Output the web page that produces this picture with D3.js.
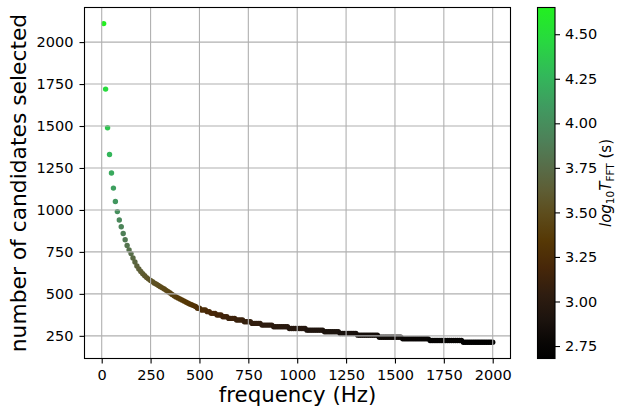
<!DOCTYPE html>
<html>
<head>
<meta charset="utf-8">
<script src="https://cdn.jsdelivr.net/npm/d3@7"></script>
<style>
  body { margin: 0; background: #fff; }
  svg { font-family: "DejaVu Sans", sans-serif; }
</style>
</head>
<body>
<div class="chart"></div>
<script>
// frequency of each point (Hz)
var freqs = [
  10, 20, 30, 40, 50, 60, 70, 80, 90, 100,
  110, 120, 130, 140, 150, 160, 170, 180, 190, 200,
  210, 220, 230, 240, 250, 260, 270, 280, 290, 300,
  310, 320, 330, 340, 350, 360, 370, 380, 390, 400,
  410, 420, 430, 440, 450, 460, 470, 480, 490, 500,
  510, 520, 530, 540, 550, 560, 570, 580, 590, 600,
  610, 620, 630, 640, 650, 660, 670, 680, 690, 700,
  710, 720, 730, 740, 750, 760, 770, 780, 790, 800,
  810, 820, 830, 840, 850, 860, 870, 880, 890, 900,
  910, 920, 930, 940, 950, 960, 970, 980, 990, 1000,
  1010, 1020, 1030, 1040, 1050, 1060, 1070, 1080, 1090, 1100,
  1110, 1120, 1130, 1140, 1150, 1160, 1170, 1180, 1190, 1200,
  1210, 1220, 1230, 1240, 1250, 1260, 1270, 1280, 1290, 1300,
  1310, 1320, 1330, 1340, 1350, 1360, 1370, 1380, 1390, 1400,
  1410, 1420, 1430, 1440, 1450, 1460, 1470, 1480, 1490, 1500,
  1510, 1520, 1530, 1540, 1550, 1560, 1570, 1580, 1590, 1600,
  1610, 1620, 1630, 1640, 1650, 1660, 1670, 1680, 1690, 1700,
  1710, 1720, 1730, 1740, 1750, 1760, 1770, 1780, 1790, 1800,
  1810, 1820, 1830, 1840, 1850, 1860, 1870, 1880, 1890, 1900,
  1910, 1920, 1930, 1940, 1950, 1960, 1970, 1980, 1990, 2000
];

// number of candidates selected at each frequency
var counts = [
  2110, 1720, 1490, 1330, 1220, 1130, 1050, 990, 940, 900,
  860, 822, 788, 762, 740, 714, 690, 666, 648, 633,
  620, 608, 597, 588, 580, 572, 564, 557, 550, 543,
  536, 529, 521, 513, 505, 497, 489, 482, 476, 470,
  464, 458, 452, 446, 440, 435, 430, 425, 414, 414,
  404, 404, 404, 394, 394, 384, 384, 384, 374, 374,
  374, 364, 364, 364, 354, 354, 354, 354, 344, 344,
  344, 344, 334, 334, 334, 334, 324, 324, 324, 324,
  324, 314, 314, 314, 314, 314, 314, 304, 304, 304,
  304, 304, 304, 304, 304, 294, 294, 294, 294, 294,
  294, 294, 294, 294, 284, 284, 284, 284, 284, 284,
  284, 284, 284, 274, 274, 274, 274, 274, 274, 274,
  274, 264, 264, 264, 264, 264, 264, 264, 264, 264,
  254, 254, 254, 254, 254, 254, 254, 254, 254, 254,
  254, 242, 242, 242, 242, 242, 242, 242, 242, 242,
  242, 242, 242, 232, 232, 232, 232, 232, 232, 232,
  232, 232, 232, 232, 232, 232, 232, 222, 222, 222,
  222, 222, 222, 222, 222, 222, 222, 222, 222, 222,
  222, 222, 222, 222, 212, 212, 212, 212, 212, 212,
  212, 212, 212, 212, 212, 212, 212, 212, 212, 212
];

// log10 T_FFT (s)
var logT = [
  4.65, 4.48, 4.35, 4.26, 4.18, 4.12, 4.06, 4.01, 3.96, 3.93,
  3.89, 3.85, 3.81, 3.78, 3.76, 3.73, 3.70, 3.67, 3.65, 3.63,
  3.61, 3.59, 3.58, 3.56, 3.55, 3.54, 3.53, 3.52, 3.51, 3.50,
  3.48, 3.47, 3.46, 3.45, 3.43, 3.42, 3.41, 3.39, 3.38, 3.37,
  3.36, 3.35, 3.34, 3.33, 3.32, 3.31, 3.30, 3.29, 3.26, 3.26,
  3.24, 3.24, 3.24, 3.22, 3.22, 3.20, 3.20, 3.20, 3.18, 3.18,
  3.18, 3.15, 3.15, 3.15, 3.13, 3.13, 3.13, 3.13, 3.11, 3.11,
  3.11, 3.11, 3.08, 3.08, 3.08, 3.08, 3.06, 3.06, 3.06, 3.06,
  3.06, 3.03, 3.03, 3.03, 3.03, 3.03, 3.03, 3.00, 3.00, 3.00,
  3.00, 3.00, 3.00, 3.00, 3.00, 2.97, 2.97, 2.97, 2.97, 2.97,
  2.97, 2.97, 2.97, 2.97, 2.94, 2.94, 2.94, 2.94, 2.94, 2.94,
  2.94, 2.94, 2.94, 2.91, 2.91, 2.91, 2.91, 2.91, 2.91, 2.91,
  2.91, 2.88, 2.88, 2.88, 2.88, 2.88, 2.88, 2.88, 2.88, 2.88,
  2.85, 2.85, 2.85, 2.85, 2.85, 2.85, 2.85, 2.85, 2.85, 2.85,
  2.85, 2.81, 2.81, 2.81, 2.81, 2.81, 2.81, 2.81, 2.81, 2.81,
  2.81, 2.81, 2.81, 2.77, 2.77, 2.77, 2.77, 2.77, 2.77, 2.77,
  2.77, 2.77, 2.77, 2.77, 2.77, 2.77, 2.77, 2.73, 2.73, 2.73,
  2.73, 2.73, 2.73, 2.73, 2.73, 2.73, 2.73, 2.73, 2.73, 2.73,
  2.73, 2.73, 2.73, 2.73, 2.69, 2.69, 2.69, 2.69, 2.69, 2.69,
  2.69, 2.69, 2.69, 2.69, 2.69, 2.69, 2.69, 2.69, 2.69, 2.69
];

var xTicks = [0, 250, 500, 750, 1000, 1250, 1500, 1750, 2000];
var yTicks = [250, 500, 750, 1000, 1250, 1500, 1750, 2000];
var cTicks = [2.75, 3.00, 3.25, 3.50, 3.75, 4.00, 4.25, 4.50];

// colormap (black -> brown -> olive -> green)
var cStops = [2.68, 2.78, 2.90, 3.04, 3.19, 3.34, 3.49, 3.62, 3.75, 3.90, 4.09, 4.27, 4.46, 4.65];
var cColors = ["#000000", "#0a0705", "#1c130e", "#2f1d10", "#472709", "#563805", "#5d4c1c",
  "#5e5d34", "#586c48", "#4e8058", "#409a60", "#32b85a", "#28d840", "#22f020"];

var svgWidth = 621;
var svgHeight = 411;
var plot = { left: 84.5, right: 510.5, top: 7.5, bottom: 358.5 };
var cbar = { left: 537.5, right: 555, top: 7.5, bottom: 358.5 };
var tickFont = "14.5px";

var svg = d3.select(".chart")
  .append("svg")
  .attr("width", svgWidth)
  .attr("height", svgHeight);

var xScale = d3.scaleLinear().domain([-88, 2091]).range([plot.left, plot.right]);
var yScale = d3.scaleLinear().domain([115, 2206]).range([plot.bottom, plot.top]);
var cScale = d3.scaleLinear().domain([2.68, 4.65]).range([cbar.bottom, cbar.top]);
var colour = d3.scaleLinear().domain(cStops).range(cColors).interpolate(d3.interpolateRgb).clamp(true);

var points = freqs.map(function(f, i) {
  return { f: f, n: counts[i], t: logT[i] };
});

// scatter
svg.append("g")
  .selectAll("circle")
  .data(points)
  .enter()
  .append("circle")
  .attr("cx", d => xScale(d.f))
  .attr("cy", d => yScale(d.n))
  .attr("r", 2.7)
  .attr("fill", d => colour(d.t));

// grid drawn over the points, like the original
var grid = svg.append("g")
  .attr("stroke", "#b0b0b0")
  .attr("stroke-width", 1.1);
grid.selectAll(".gx").data(xTicks).enter().append("line")
  .attr("x1", d => xScale(d)).attr("x2", d => xScale(d))
  .attr("y1", plot.top).attr("y2", plot.bottom);
grid.selectAll(".gy").data(yTicks).enter().append("line")
  .attr("x1", plot.left).attr("x2", plot.right)
  .attr("y1", d => yScale(d)).attr("y2", d => yScale(d));

// axes
var xAxis = svg.append("g")
  .attr("transform", `translate(0, ${plot.bottom})`)
  .call(d3.axisBottom(xScale).tickValues(xTicks).tickSize(5).tickPadding(6).tickFormat(d3.format("d")));
var yAxis = svg.append("g")
  .attr("transform", `translate(${plot.left}, 0)`)
  .call(d3.axisLeft(yScale).tickValues(yTicks).tickSize(5).tickPadding(6).tickFormat(d3.format("d")));

[xAxis, yAxis].forEach(function(ax) {
  ax.select(".domain").remove();
  ax.selectAll("line").attr("stroke", "#000").attr("stroke-width", 1.1);
  ax.selectAll("text").attr("font-size", tickFont).attr("font-family", "DejaVu Sans").attr("fill", "#000");
});

// frame
svg.append("rect")
  .attr("x", plot.left).attr("y", plot.top)
  .attr("width", plot.right - plot.left).attr("height", plot.bottom - plot.top)
  .attr("fill", "none").attr("stroke", "#000").attr("stroke-width", 1.1);

// axis labels
svg.append("text")
  .attr("x", (plot.left + plot.right) / 2)
  .attr("y", 402)
  .attr("text-anchor", "middle")
  .attr("font-size", "21.3px")
  .text("frequency (Hz)");

svg.append("text")
  .attr("transform", `translate(26, ${(plot.top + plot.bottom) / 2}) rotate(-90)`)
  .attr("text-anchor", "middle")
  .attr("font-size", "21.8px")
  .text("number of candidates selected");

// colorbar as a vertical gradient built from the colour stops
var grad = svg.append("defs").append("linearGradient")
  .attr("id", "cbarGrad")
  .attr("x1", 0).attr("x2", 0).attr("y1", 1).attr("y2", 0);
grad.selectAll("stop")
  .data(cStops)
  .enter()
  .append("stop")
  .attr("offset", d => (d - 2.68) / (4.65 - 2.68))
  .attr("stop-color", d => colour(d));

svg.append("rect")
  .attr("x", cbar.left).attr("y", cbar.top)
  .attr("width", cbar.right - cbar.left).attr("height", cbar.bottom - cbar.top)
  .attr("fill", "url(#cbarGrad)")
  .attr("stroke", "#000").attr("stroke-width", 1.1);

var cAxis = svg.append("g")
  .attr("transform", `translate(${cbar.right}, 0)`)
  .call(d3.axisRight(cScale).tickValues(cTicks).tickSize(5).tickPadding(5).tickFormat(d3.format(".2f")));
cAxis.select(".domain").remove();
cAxis.selectAll("line").attr("stroke", "#000").attr("stroke-width", 1.1);
cAxis.selectAll("text").attr("font-size", tickFont).attr("font-family", "DejaVu Sans").attr("fill", "#000");

// colorbar label: log10 T_FFT (s)
var cLabel = svg.append("text")
  .attr("transform", `translate(611, ${(cbar.top + cbar.bottom) / 2}) rotate(-90)`)
  .attr("text-anchor", "middle")
  .attr("font-size", "15px");
cLabel.append("tspan").attr("font-style", "italic").text("log");
cLabel.append("tspan").attr("font-size", "10.5px").attr("dy", 2.7).text("10");
cLabel.append("tspan").attr("font-style", "italic").attr("dy", -2.7).text("T");
cLabel.append("tspan").attr("font-size", "10.5px").attr("dy", 2.7).text("FFT");
cLabel.append("tspan").attr("dy", -2.7).text(" (s)");
</script>
</body>
</html>
